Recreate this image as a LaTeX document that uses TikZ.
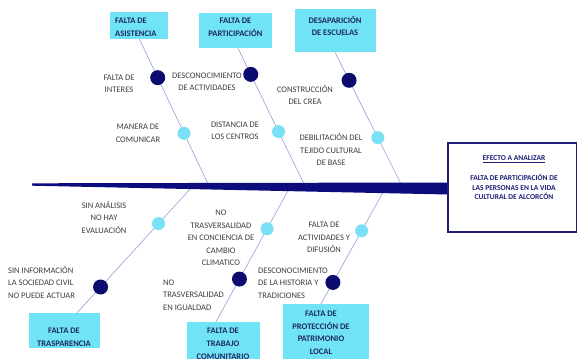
\documentclass[tikz,border=0pt]{standalone}
\usepackage{fontspec}
\setmainfont{Carlito}
\usetikzlibrary{calc}
\definecolor{boxcyan}{RGB}{112,228,246}
\definecolor{dotlight}{RGB}{122,224,246}
\definecolor{dotdark}{RGB}{12,12,112}
\definecolor{spinecol}{RGB}{12,12,125}
\definecolor{bonecol}{RGB}{140,165,212}
\definecolor{labelcol}{RGB}{62,62,62}
\definecolor{boxtext}{RGB}{28,40,98}
\definecolor{effcol}{RGB}{30,30,120}
\tikzset{
  cbox/.style={rectangle, fill=boxcyan, draw=none, inner sep=0pt},
  btext/.style={inner sep=0pt, align=center, text=boxtext, font=\fontsize{8.5}{12.8}\selectfont\bfseries},
  lbl/.style={inner sep=0pt, align=center, text=labelcol, font=\fontsize{8.5}{12.5}\selectfont},
  lbll/.style={lbl, align=left},
  bone/.style={draw=bonecol, line width=0.6pt},
  ddot/.style={circle, fill=dotdark, minimum size=15pt, inner sep=0pt},
  ldot/.style={circle, fill=dotlight, minimum size=13pt, inner sep=0pt},
}
\begin{document}
\begin{tikzpicture}[x=1pt, y=-1pt]
\useasboundingbox (0,0) rectangle (577,358);
\clip (0,0) rectangle (577,358);
\fill[white] (0,0) rectangle (577,358);

% cause boxes
\node[cbox, minimum width=58pt, minimum height=27pt] (b1) at (139,25.5) {};
\node[cbox, minimum width=73pt, minimum height=35pt] (b2) at (235.5,30.5) {};
\node[cbox, minimum width=81pt, minimum height=43pt] (b3) at (335.5,30.5) {};
\node[cbox, minimum width=71pt, minimum height=35pt] (b4) at (64.5,330.5) {};
\node[cbox, minimum width=73pt, minimum height=43pt] (b5) at (223.5,343.5) {};
\node[cbox, minimum width=86pt, minimum height=61pt] (b6) at (326,334.5) {};

\node[btext, align=left, anchor=west] (t1) at (115,27) {FALTA DE\\ASISTENCIA};
\node[btext] (t2) at (235.5,27.5) {FALTA DE\\PARTICIPACIÓN};
\node[btext] (t3) at (335,26) {DESAPARICIÓN\\DE ESCUELAS};
\node[btext] (t4) at (64,337.5) {FALTA DE\\TRASPARENCIA};
\node[btext] (t5) at (223,344) {FALTA DE\\TRABAJO\\COMUNITARIO};
\node[btext] (t6) at (321,332.8) {FALTA DE\\PROTECCIÓN DE\\PATRIMONIO\\LOCAL};

% spine points
\coordinate (s1) at (209,186);
\coordinate (s2) at (305,186);
\coordinate (s3) at (402,186);
\coordinate (s4) at (192,187);
\coordinate (s5) at (290,187);
\coordinate (s6) at (386,187);

% bones
\coordinate (e1) at ([xshift=0.5pt]b1.south);
\coordinate (e2) at ([xshift=2.5pt]b2.south);
\coordinate (e3) at ([xshift=-0.5pt]b3.south);
\coordinate (e4) at ([xshift=12.5pt]b4.north);
\coordinate (e5) at ([xshift=-7.5pt]b5.north);
\coordinate (e6) at ([xshift=-5pt]b6.north);
\draw[bone] (e1) -- (s1);
\draw[bone] (e2) -- (s2);
\draw[bone] (e3) -- (s3);
\draw[bone] (e4) -- (s4);
\draw[bone] (e5) -- (s5);
\draw[bone] (e6) -- (s6);

% spine (tapered)
\coordinate (spL) at (32,184.5);
\fill[spinecol] (32,183.3) -- (448,182.5) -- (448,194.5) -- (32,185.7) -- cycle;

% effect box
\node[draw=effcol, line width=1.2pt, fill=white, minimum width=129pt, minimum height=89pt, inner sep=0pt] (eff) at (512.5,187.5) {};
\node[inner sep=0pt, align=center, text=effcol, font=\fontsize{7.5}{9.5}\selectfont\bfseries] (efft) at (514,159) {\underline{EFECTO A ANALIZAR}};
\node[inner sep=0pt, align=center, text=effcol, font=\fontsize{7.5}{9.5}\selectfont\bfseries] (effb) at (514,187) {FALTA DE PARTICIPACIÓN DE\\LAS PERSONAS EN LA VIDA\\CULTURAL DE ALCORCÓN};

% dots
\node[ddot] (d1) at ($(e1)!0.262!(s1)$) {};
\node[ldot] (l1) at ($(e1)!0.641!(s1)$) {};
\node[ddot] (d2) at ($(e2)!0.19!(s2)$) {};
\node[ldot] (l2) at ($(e2)!0.605!(s2)$) {};
\node[ddot] (d3) at ($(e3)!0.21!(s3)$) {};
\node[ldot] (l3) at ($(e3)!0.639!(s3)$) {};
\node[ddot] (d4) at ($(e4)!0.205!(s4)$) {};
\node[ldot] (l4) at ($(e4)!0.709!(s4)$) {};
\node[ddot] (d5) at ($(e5)!0.317!(s5)$) {};
\node[ldot] (l5) at ($(e5)!0.69!(s5)$) {};
\node[ddot] (d6) at ($(e6)!0.183!(s6)$) {};
\node[ldot] (l6) at ($(e6)!0.625!(s6)$) {};

% labels
\node[lbl] (n1) at (119,84) {FALTA DE\\INTERES};
\node[lbl] (n2) at (207,82) {DESCONOCIMIENTO\\DE ACTIVIDADES};
\node[lbl] (n3) at (138,133.5) {MANERA DE\\COMUNICAR};
\node[lbl] (n4) at (235,131) {DISTANCIA DE\\LOS CENTROS};
\node[lbl] (n5) at (305,95) {CONSTRUCCIÓN\\DEL CREA};
\node[lbl] (n6) at (331,149.5) {DEBILITACIÓN DEL\\TEJIDO CULTURAL\\DE BASE};
\node[lbl] (n7) at (104,217) {SIN ANÁLISIS\\NO HAY\\EVALUACIÓN};
\node[lbll, anchor=west] (n8) at (8,282) {SIN INFORMACIÓN\\LA SOCIEDAD CIVIL\\NO PUEDE ACTUAR};
\node[lbl] (n9) at (221,238) {NO\\TRASVERSALIDAD\\EN CONCIENCIA DE\\CAMBIO\\CLIMATICO};
\node[lbll, anchor=west] (n10) at (163,295) {NO\\TRASVERSALIDAD\\EN IGUALDAD};
\node[lbl] (n11) at (324,237.5) {FALTA DE\\ACTIVIDADES Y\\DIFUSIÓN};
\node[lbll, anchor=west] (n12) at (258,283) {DESCONOCIMIENTO\\DE LA HISTORIA Y\\TRADICIONES};
\end{tikzpicture}
\end{document}
